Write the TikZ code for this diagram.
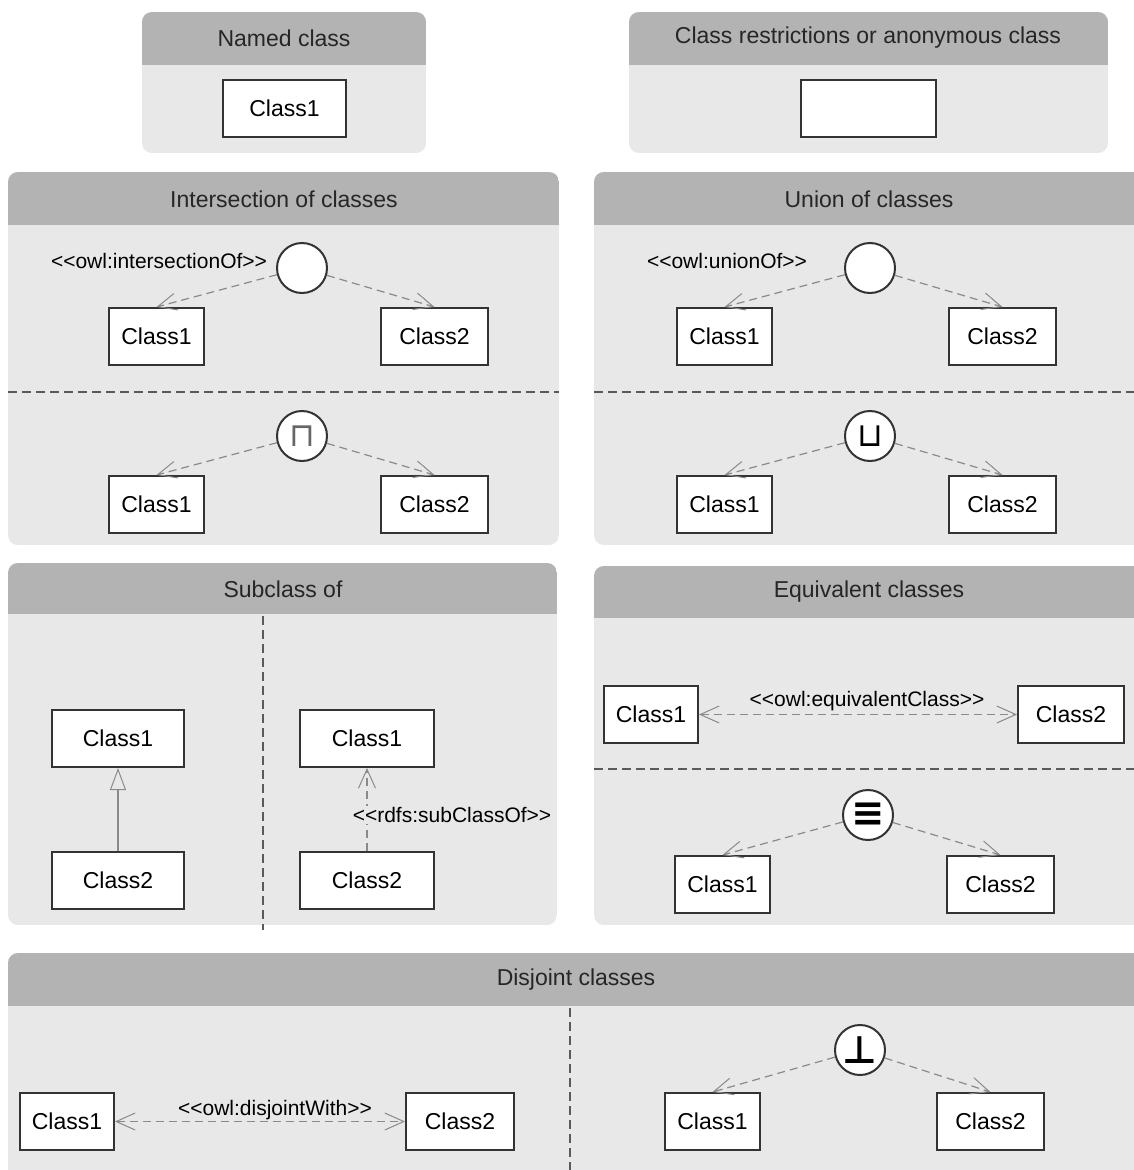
\documentclass[tikz,border=0pt]{standalone}
\usepackage{fontspec}
\setmainfont{Liberation Sans}
\newfontfamily\symfnt{DejaVu Sans}
\usetikzlibrary{arrows.meta}
\definecolor{hdr}{HTML}{B3B3B3}
\definecolor{bodyc}{HTML}{E8E8E8}
\definecolor{edgec}{HTML}{333333}
\definecolor{depc}{HTML}{8A8A8A}
\definecolor{sepc}{HTML}{5A5A5A}
\tikzset{
 cls/.style={draw=edgec, line width=2pt, fill=white, minimum height=57pt, inner sep=0pt, font=\fontsize{23}{27}\selectfont},
 opnode/.style={circle, draw=edgec, line width=2pt, fill=white, minimum size=50pt, inner sep=0pt, font=\symfnt\fontsize{33}{36}\selectfont},
 hdrtext/.style={font=\fontsize{23}{27}\selectfont, text=black!85},
 lbl/.style={font=\fontsize{21}{25}\selectfont, inner sep=1pt},
 deparrow/.style={draw=depc, line width=1.2pt, dash pattern=on 8pt off 5pt, -{Straight Barb[length=19pt,width=17pt,line width=1pt]}},
 depboth/.style={draw=depc, line width=1.2pt, dash pattern=on 8pt off 5pt, {Straight Barb[length=19pt,width=17pt,line width=1pt]}-{Straight Barb[length=19pt,width=17pt,line width=1pt]}},
 sepline/.style={draw=sepc, line width=1.8pt, dash pattern=on 9pt off 5pt},
}
\newcommand\mkpanel[5]{%
 \begin{scope}
 \path[clip, rounded corners=10pt] (#1,#2) rectangle (#3,#4);
 \fill[bodyc] (#1,#2) rectangle (#3,#4);
 \fill[hdr] (#1,#2) rectangle (#3,#5);
 \end{scope}}
\begin{document}
\begin{tikzpicture}[x=1pt,y=-1pt]
\clip (0,0) rectangle (1134,1170);
\fill[white] (0,0) rectangle (1134,1170);
% panels
\mkpanel{142}{12}{426}{153}{65}
\mkpanel{629}{12}{1108}{153}{65}
\mkpanel{8}{172}{559}{545}{225}
\mkpanel{594}{172}{1146}{545}{225}
\mkpanel{8}{563}{557}{925}{614}
\mkpanel{594}{566}{1146}{925}{618}
\mkpanel{8}{953}{1146}{1190}{1006}
% headers
\node[hdrtext] (h1) at (284,38) {Named class};
\node[hdrtext] (h2) at (868,38) {Class restrictions or anonymous class};
\node[hdrtext] (h3) at (284,199) {Intersection of classes};
\node[hdrtext] (h4) at (869,199) {Union of classes};
\node[hdrtext] (h5) at (283,589) {Subclass of};
\node[hdrtext] (h6) at (869,592) {Equivalent classes};
\node[hdrtext] (h7) at (576,980) {Disjoint classes};
% separators
\draw[sepline] (8,392) -- (559,392);
\draw[sepline] (594,392) -- (1134,392);
\draw[sepline] (594,769) -- (1134,769);
\draw[sepline] (263,616) -- (263,930);
\draw[sepline] (570,1008) -- (570,1170);
% named / anonymous
\node[cls, minimum width=123pt] (n1) at (284.5,108.5) {Class1};
\node[cls, minimum width=135pt] (n2) at (868.5,108.5) {};
% intersection
\node[opnode] (ic1) at (302,268) {};
\node[lbl] (il) at (159,261) {<{}<owl:intersectionOf>{}>};
\node[cls, minimum width=95pt] (i1a) at (156.5,336.5) {Class1};
\node[cls, minimum width=107pt] (i1b) at (434.5,336.5) {Class2};
\draw[deparrow] (ic1) -- (i1a.north);
\draw[deparrow] (ic1) -- (i1b.north);
\node[opnode, text=black!60] (ic2) at (302,436) {⊓};
\node[cls, minimum width=95pt] (i2a) at (156.5,504.5) {Class1};
\node[cls, minimum width=107pt] (i2b) at (434.5,504.5) {Class2};
\draw[deparrow] (ic2) -- (i2a.north);
\draw[deparrow] (ic2) -- (i2b.north);
% union
\node[opnode] (uc1) at (870,268) {};
\node[lbl] (ul) at (727,261) {<{}<owl:unionOf>{}>};
\node[cls, minimum width=95pt] (u1a) at (724.5,336.5) {Class1};
\node[cls, minimum width=107pt] (u1b) at (1002.5,336.5) {Class2};
\draw[deparrow] (uc1) -- (u1a.north);
\draw[deparrow] (uc1) -- (u1b.north);
\node[opnode] (uc2) at (870,436) {⊔};
\node[cls, minimum width=95pt] (u2a) at (724.5,504.5) {Class1};
\node[cls, minimum width=107pt] (u2b) at (1002.5,504.5) {Class2};
\draw[deparrow] (uc2) -- (u2a.north);
\draw[deparrow] (uc2) -- (u2b.north);
% subclass
\node[cls, minimum width=132pt] (s1a) at (118,738.5) {Class1};
\node[cls, minimum width=132pt] (s1b) at (118,880.5) {Class2};
\draw[draw=depc, line width=1.2pt, -{Triangle[open, length=22pt, width=16pt, line width=1pt]}] (s1b.north) -- (s1a.south);
\node[cls, minimum width=134pt] (s2a) at (367,738.5) {Class1};
\node[cls, minimum width=134pt] (s2b) at (367,880.5) {Class2};
\draw[deparrow] (s2b.north) -- (s2a.south);
\node[lbl, fill=bodyc] (sl) at (452,815) {<{}<rdfs:subClassOf>{}>};
% equivalent
\node[cls, minimum width=94pt] (e1a) at (651,714.5) {Class1};
\node[cls, minimum width=106pt] (e1b) at (1071,714.5) {Class2};
\draw[depboth] (e1a.east) -- (e1b.west);
\node[lbl] (el) at (867,701) {<{}<owl:equivalentClass>{}>};
\node[opnode, font=\symfnt\bfseries\fontsize{40}{44}\selectfont] (ec) at (868,815) {≡};
\node[cls, minimum width=95pt] (e2a) at (722.5,884.5) {Class1};
\node[cls, minimum width=107pt] (e2b) at (1000.5,884.5) {Class2};
\draw[deparrow] (ec) -- (e2a.north);
\draw[deparrow] (ec) -- (e2b.north);
% disjoint
\node[cls, minimum width=94pt] (d1a) at (67,1121.5) {Class1};
\node[cls, minimum width=108pt] (d1b) at (460,1121.5) {Class2};
\draw[depboth] (d1a.east) -- (d1b.west);
\node[lbl] (dl) at (275,1110) {<{}<owl:disjointWith>{}>};
\node[opnode, font=\symfnt\bfseries\fontsize{38}{42}\selectfont] (dc) at (860,1050) {⊥};
\node[cls, minimum width=95pt] (d2a) at (712.5,1121.5) {Class1};
\node[cls, minimum width=107pt] (d2b) at (990.5,1121.5) {Class2};
\draw[deparrow] (dc) -- (d2a.north);
\draw[deparrow] (dc) -- (d2b.north);
\end{tikzpicture}
\end{document}
